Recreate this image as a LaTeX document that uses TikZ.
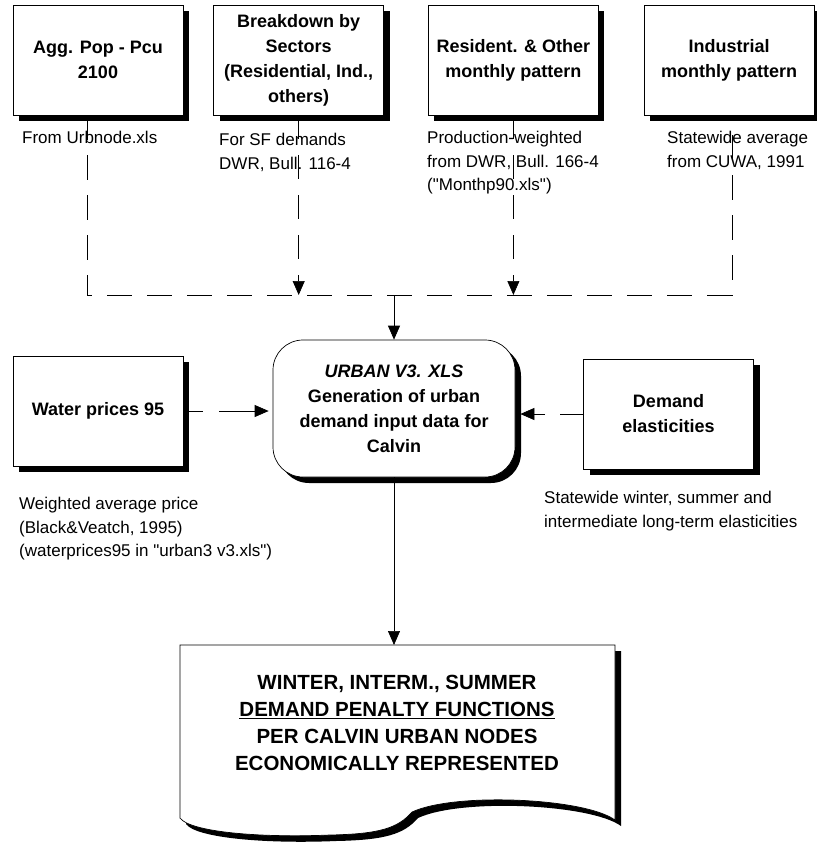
\documentclass[tikz,border=0pt]{standalone}
\usepackage{fontspec}
\setmainfont{Liberation Sans}[Ligatures=TeXOff]
\usetikzlibrary{arrows.meta, positioning, shadows}

\begin{document}
\begin{tikzpicture}[
  x=1pt, y=-1pt,
  >={Triangle[length=14pt, width=12pt]},
  node distance=30pt,
  blackshadow/.style={drop shadow={shadow xshift=6pt, shadow yshift=-6pt, fill=black, opacity=1}},
  box/.style={draw, line width=0.7pt, fill=white, align=center, inner sep=2pt,
              minimum width=170pt, minimum height=110pt,
              font=\fontsize{18}{25}\selectfont\bfseries, blackshadow},
  note/.style={anchor=north west, align=left, inner sep=0pt,
               font=\fontsize{17}{23.5}\selectfont},
  feed/.style={->, line width=0.7pt, dash pattern=on 24pt off 16pt},
  bus/.style={line width=0.7pt, dash pattern=on 25pt off 15pt},
  flow/.style={->, line width=0.7pt},
  ]
\useasboundingbox (0,0) rectangle (817,844);

% input data
\node[box] (agg) at (98,60) {Agg. Pop - Pcu\\2100};
\node[box, right=30pt of agg] (sect) {Breakdown by\\Sectors\\(Residential, Ind.,\\others)};
\node[box, right=44pt of sect] (resid) {Resident. \& Other\\monthly pattern};
\node[box, right=45pt of resid] (ind) {Industrial\\monthly pattern};

\node[note] (aggnote) at (22,131) {From Urbnode.xls};
\node[note] (sectnote) at (219,133) {For SF demands\\DWR, Bull. 116-4};
\node[note] (residnote) at (427,131) {Production-weighted\\from DWR, Bull. 166-4\\("Monthp90.xls")};
\node[note] (indnote) at (667,131) {Statewide average\\from CUWA, 1991};

% spreadsheet
\node[box, minimum width=242pt, minimum height=137pt, rounded corners=30pt] (urban) at (394,408.5)
  {\textit{URBAN V3. XLS}\\Generation of urban\\demand input data for\\Calvin};
\node[box] (price) at (98,411) {Water prices 95};
\node[box] (elast) at (668.5,414) {Demand\\elasticities};

\node[note] (pricenote) at (19,497) {Weighted average price\\(Black\&Veatch, 1995)\\(waterprices95 in "urban3 v3.xls")};
\node[note] (elastnote) at (544,491) {Statewide winter, summer and\\intermediate long-term elasticities};

% output document
\path[draw, line width=0.7pt, fill=white, blackshadow] (180,645) -- (615,645) -- (615,820)
  .. controls (585,798) and (455,792) .. (412,812)
  .. controls (398,828) and (380,834) .. (330,835)
  .. controls (260,838) and (190,832) .. (180,818) -- cycle;
\node[align=center, font=\fontsize{20.5}{27}\selectfont\bfseries] (penalty) at (397,723)
  {WINTER, INTERM., SUMMER\\\underline{DEMAND PENALTY FUNCTIONS}\\PER CALVIN URBAN NODES\\ECONOMICALLY REPRESENTED};
\coordinate (doctop) at (394,645);

% connectors
\coordinate (busL) at (87,295);
\coordinate (busR) at (732,295);
\coordinate (busM) at (394,295);
\draw[bus] (agg.south -| busL) -- (busL) -- (busR) -- (ind.south -| busR);
\draw[feed] (sect.south) -- (sect.south |- busL);
\draw[feed] (resid.south) -- (resid.south |- busL);
\draw[flow] (busM) -- (urban.north);
\draw[feed, dash pattern=on 20pt off 16pt on 60pt, shorten >=4pt] (price.east) -- (price.east -| urban.west);
\draw[feed, dash pattern=on 23pt off 15pt on 60pt] (elast.west) -- ([xshift=5pt]elast.west -| urban.east);
\draw[flow] (urban.south) -- (doctop);
\end{tikzpicture}
\end{document}
